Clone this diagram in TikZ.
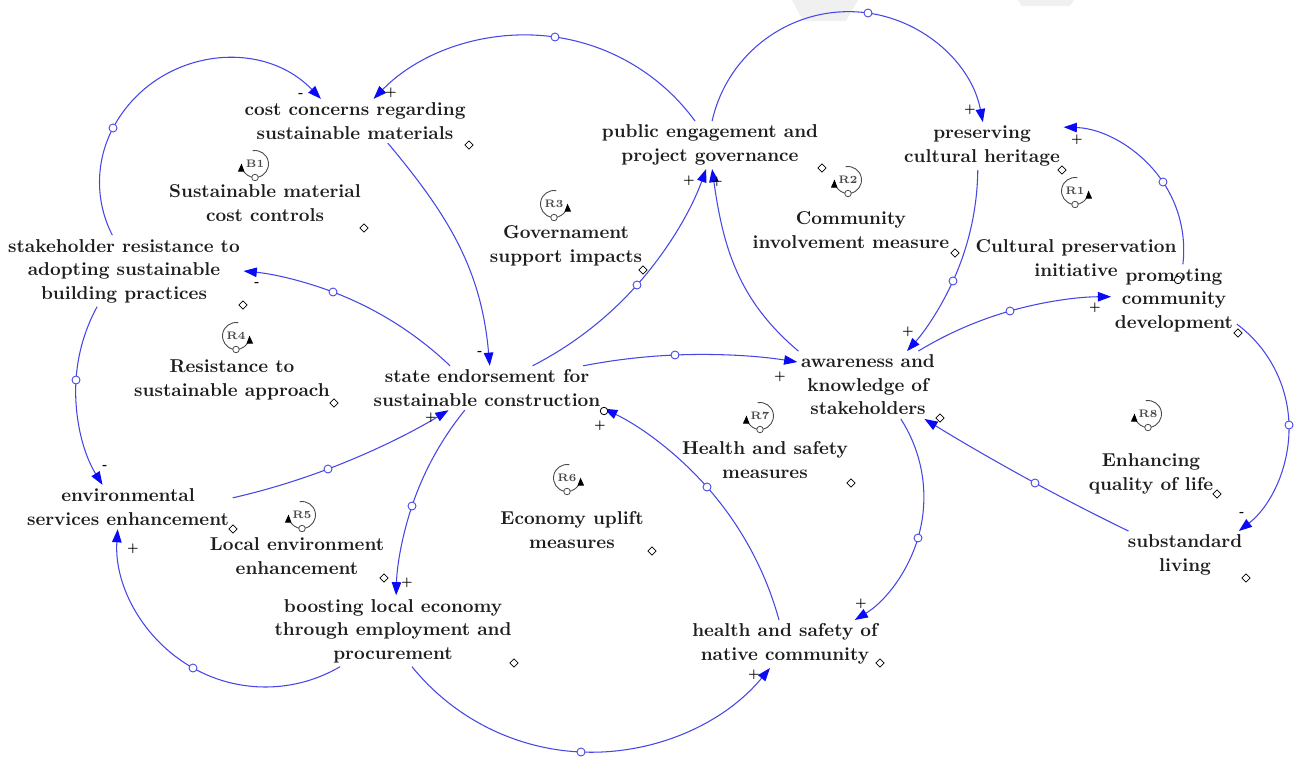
\documentclass[tikz,border=0pt]{standalone}
\usepackage{tikz}
\usetikzlibrary{arrows.meta,shapes.geometric,hobby}
\definecolor{linkblue}{HTML}{4646E6}
\definecolor{headblue}{HTML}{0A0AF5}
\definecolor{inkgray}{HTML}{1E1E1E}
\definecolor{loopgray}{HTML}{4A4A4A}
\tikzset{
  var/.style={align=center, inner sep=2pt, text=inkgray, font=\fontsize{10.6}{13.4}\selectfont\bfseries},
  link/.style={draw=linkblue, line width=0.6pt, -{Triangle[length=7.5pt,width=5.4pt,color=headblue]}, use Hobby shortcut},
  handle/.style={draw=linkblue, circle, fill=white, line width=0.5pt, minimum size=0.16cm, inner sep=0pt},
  vmark/.style={draw=black, diamond, fill=white, line width=0.45pt, minimum size=0.17cm, inner sep=0pt},
  vdot/.style={draw=black, circle, fill=white, line width=0.45pt, minimum size=0.15cm, inner sep=0pt},
  pol/.style={inner sep=0pt, text=black, font=\fontsize{6.2}{7}\selectfont\bfseries},
  loopline/.style={draw=loopgray, line width=0.5pt, -{Triangle[length=4.6pt,width=3.6pt,color=black]}},
  looptag/.style={inner sep=0pt, text=loopgray, font=\fontsize{6.2}{7}\selectfont\bfseries},
  loopdot/.style={draw=loopgray, circle, fill=white, line width=0.45pt, minimum size=0.13cm, inner sep=0pt},
  pics/loopleft/.style={code={
    \draw[loopline] (100:0.27cm) arc[start angle=100, end angle=-182, radius=0.27cm];
    \node[looptag] (-tag) at (0,0) {#1};
    \node[loopdot] (-dot) at (0,-0.27cm) {};
  }},
  pics/loopright/.style={code={
    \draw[loopline] (80:0.27cm) arc[start angle=80, end angle=362, radius=0.27cm];
    \node[looptag] (-tag) at (0,0) {#1};
    \node[loopdot] (-dot) at (0,-0.27cm) {};
  }}
}

\begin{document}
\begin{tikzpicture}[x=0.02cm, y=-0.02cm]
  \useasboundingbox (0,0) rectangle (1295,758);
  \fill[white] (0,0) rectangle (1295,758);
  \fill[gray!12] (792,0) -- (858,0) -- (846,21) -- (803,21) -- cycle;
  \fill[gray!12] (1018,0) -- (1074,0) -- (1070,6) -- (1022,6) -- cycle;

  % variables
  \node[var] (cost) at (355,121) {cost concerns regarding\\sustainable materials};
  \node[var] (pub) at (710,145) {public engagement and\\project governance};
  \node[var] (heritage) at (982,146) {preserving\\cultural heritage};
  \node[var] (resist) at (124,271) {stakeholder resistance to\\adopting sustainable\\building practices};
  \node[var] (promote) at (1174,300) {promoting\\community\\development};
  \node[var] (state) at (487,388) {state endorsement for\\sustainable construction};
  \node[var] (aware) at (868,385) {awareness and\\knowledge of\\stakeholders};
  \node[var] (env) at (128,507) {environmental\\services enhancement};
  \node[var] (substd) at (1185,555) {substandard\\living};
  \node[var] (boost) at (393,631) {boosting local economy\\through employment and\\procurement};
  \node[var] (health) at (785,644) {health and safety of\\native community};

  % loop names
  \node[var] (nB1) at (265,203) {Sustainable material\\cost controls};
  \node[var] (nR3) at (566,246) {Governament\\support impacts};
  \node[var] (nR2) at (851,230) {Community\\involvement measure};
  \node[var] (nR1) at (1076,258) {Cultural preservation\\initiative};
  \node[var] (nR4) at (232,380) {Resistance to\\sustainable approach};
  \node[var] (nR7) at (765,460) {Health and safety\\measures};
  \node[var] (nR6) at (572,530) {Economy uplift\\measures};
  \node[var] (nR8) at (1151,474) {Enhancing\\quality of life};
  \node[var] (nR5) at (297,556) {Local environment\\enhancement};

  \pic (lB1) at (255,164) {loopleft=B1};
  \pic (lR3) at (554,204) {loopright=R3};
  \pic (lR2) at (848,180) {loopleft=R2};
  \pic (lR1) at (1075,191) {loopright=R1};
  \pic (lR4) at (236,336) {loopright=R4};
  \pic (lR7) at (760,416) {loopleft=R7};
  \pic (lR6) at (567,478) {loopright=R6};
  \pic (lR8) at (1148,414) {loopleft=R8};
  \pic (lR5) at (302,515) {loopleft=R5};

  % arc handles
  \coordinate (h1) at (555,37);
  \coordinate (h2) at (113,128);
  \coordinate (h4) at (637,285);
  \coordinate (h6) at (868,13);
  \coordinate (h7) at (953,281);
  \coordinate (h8) at (1163,182);
  \coordinate (h9) at (1010,311);
  \coordinate (h10) at (1289,425);
  \coordinate (h11) at (1035,483);
  \coordinate (h12) at (675,355);
  \coordinate (h13) at (918,538);
  \coordinate (h14) at (707,487);
  \coordinate (h15) at (581,752);
  \coordinate (h16) at (412,506);
  \coordinate (h17) at (193,668);
  \coordinate (h18) at (328,469);
  \coordinate (h19) at (76,380);
  \coordinate (h20) at (333,292);

  % causal links
  \draw[link] (pub.122) .. (h1) .. (cost.50);
  \draw[link] (resist.108) .. (h2) .. (cost.147);
  \draw[link] (cost.-34) to[out=-50,in=95] (state.83);
  \draw[link] (state.26) .. (h4) .. (pub.-99);
  \draw[link] (aware.154) to[out=140,in=-82] (pub.-85);
  \draw[link] (pub.85) .. (h6) .. (heritage.88);
  \draw[link] (heritage.-100) .. (h7) .. (aware.41);
  \draw[link] (promote.76) .. (h8) .. (heritage.13);
  \draw[link] (aware.34) .. (h9) .. (promote.177);
  \draw[link] (promote.-21) .. (h10) .. (substd.24);
  \draw[link] (substd.157) .. (h11) .. (aware.-31);
  \draw[link] (state.13) .. (h12) .. (aware.162);
  \draw[link] (aware.-46) .. (h13) .. (health.19);
  \draw[link] (health.104) .. (h14) .. (state.-10);
  \draw[link] (boost.-62) .. (h15) .. (health.-122);
  \draw[link] (state.-135) .. (h16) .. (boost.85);
  \draw[link] (boost.-146) .. (h17) .. (env.-115);
  \draw[link] (env.5) .. (h18) .. (state.-150);
  \draw[link] (resist.-127) .. (h19) .. (env.139);
  \draw[link] (state.149) .. (h20) .. (resist.0);

  \foreach \h in {h1,h2,h4,h6,h7,h8,h9,h10,h11,h12,h13,h14,h15,h16,h17,h18,h19,h20}
    \node[handle] (\h m) at (\h) {};

  % polarities
  \node[pol] (p1) at (391,93) {+};
  \node[pol] (p2) at (301,95) {-};
  \node[pol] (p3) at (480,353) {-};
  \node[pol] (p4) at (689,181) {+};
  \node[pol] (p5) at (717,182) {+};
  \node[pol] (p6) at (970,110) {+};
  \node[pol] (p7) at (908,332) {+};
  \node[pol] (p8) at (1077,140) {+};
  \node[pol] (p9) at (1095,308) {+};
  \node[pol] (p10) at (1242,514) {-};
  \node[pol] (p12) at (780,377) {+};
  \node[pol] (p13) at (861,604) {+};
  \node[pol] (p14) at (600,426) {+};
  \node[pol] (p15) at (754,675) {+};
  \node[pol] (p16) at (407,583) {+};
  \node[pol] (p17) at (133,549) {+};
  \node[pol] (p18) at (431,418) {+};
  \node[pol] (p19) at (105,467) {-};
  \node[pol] (p20) at (257,284) {-};

  % variable markers
  \node[vmark] (d1) at (469,145) {};
  \node[vmark] (d2) at (364,228) {};
  \node[vmark] (d3) at (822,168) {};
  \node[vmark] (d4) at (1062,170) {};
  \node[vmark] (d5) at (955,253) {};
  \node[vmark] (d6) at (643,270) {};
  \node[vmark] (d7) at (243,305) {};
  \node[vmark] (d8) at (334,403) {};
  \node[vmark] (d9) at (940,418) {};
  \node[vmark] (d10) at (851,483) {};
  \node[vmark] (d11) at (1217,494) {};
  \node[vmark] (d12) at (1246,578) {};
  \node[vmark] (d13) at (233,529) {};
  \node[vmark] (d14) at (384,578) {};
  \node[vmark] (d15) at (514,663) {};
  \node[vmark] (d16) at (652,551) {};
  \node[vmark] (d17) at (880,663) {};
  \node[vmark] (d18) at (1238,333) {};
  \node[vdot] (o1) at (604,411) {};
  \node[vdot] (o2) at (1178,280) {};
\end{tikzpicture}
\end{document}
